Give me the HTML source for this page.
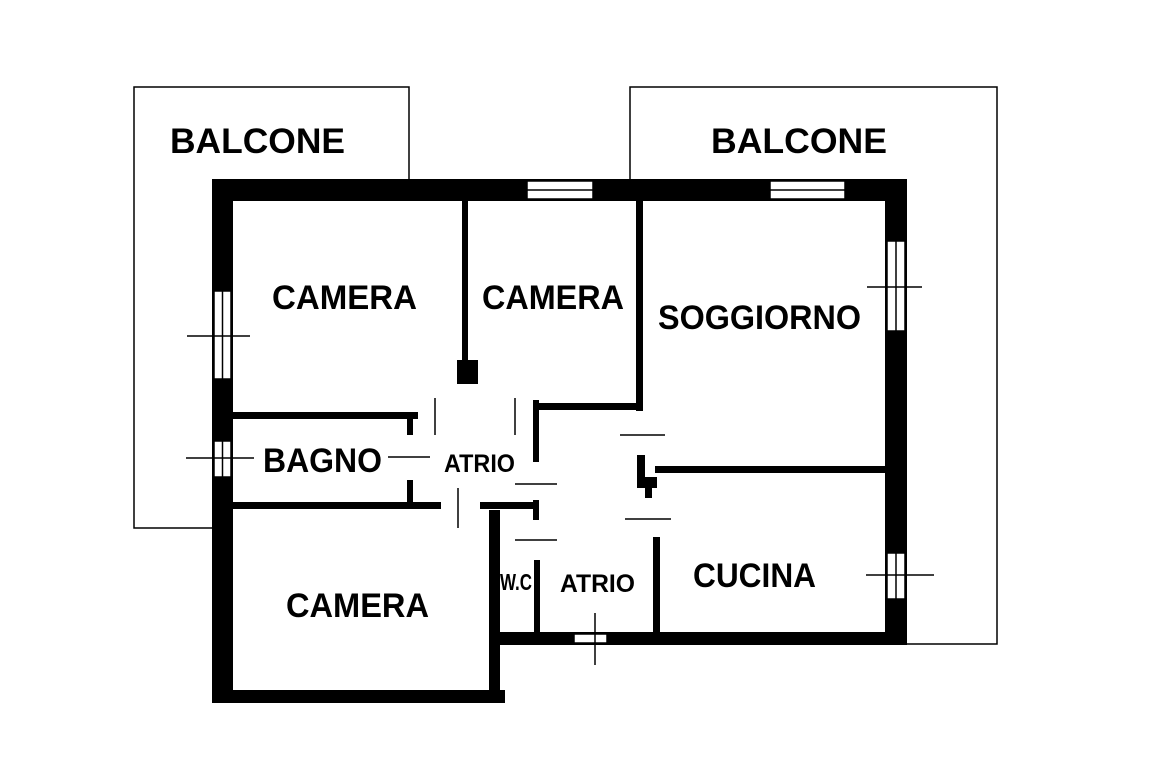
<!DOCTYPE html>
<html><head><style>
html,body{margin:0;padding:0;background:#fff}
svg{display:block}
text{font-family:"Liberation Sans",Arial,sans-serif;font-weight:bold;fill:#000}
</style></head><body>
<svg width="1152" height="768" viewBox="0 0 1152 768" xmlns="http://www.w3.org/2000/svg">
<rect width="1152" height="768" fill="#fff"/>
<polyline points="212,528 134,528 134,87 409,87 409,179" fill="none" stroke="#000" stroke-width="1.5"/>
<polyline points="630,179 630,87 997,87 997,644 906,644" fill="none" stroke="#000" stroke-width="1.5"/>
<g fill="#000">
<rect x="212" y="179" width="695" height="22"/>
<rect x="212" y="179" width="21" height="524"/>
<rect x="885" y="179" width="22" height="465"/>
<rect x="212" y="690" width="293" height="13"/>
<rect x="489" y="510" width="11" height="193"/>
<rect x="489" y="632" width="418" height="13"/>
<rect x="462" y="201" width="6" height="160"/>
<rect x="457" y="360" width="21" height="24"/>
<rect x="636" y="201" width="7" height="210"/>
<rect x="233" y="412" width="185" height="7"/>
<rect x="407" y="412" width="6" height="23"/>
<rect x="407" y="480" width="6" height="24"/>
<rect x="233" y="502" width="208" height="7"/>
<rect x="480" y="502" width="58" height="7"/>
<rect x="533" y="500" width="6" height="20"/>
<rect x="533" y="400" width="6" height="62"/>
<rect x="539" y="403" width="97" height="7"/>
<rect x="655" y="466" width="230" height="7"/>
<rect x="637" y="455" width="8" height="33"/>
<rect x="637" y="477" width="20" height="11"/>
<rect x="645" y="480" width="7" height="18"/>
<rect x="653" y="537" width="7" height="96"/>
<rect x="534" y="560" width="6" height="73"/>
</g>
<g stroke="#000" stroke-width="1.5">
<line x1="620" y1="435" x2="665" y2="435"/>
<line x1="515" y1="484" x2="557" y2="484"/>
<line x1="625" y1="519" x2="671" y2="519"/>
<line x1="515" y1="540" x2="557" y2="540"/>
<line x1="388" y1="457" x2="430" y2="457"/>
<line x1="458" y1="488" x2="458" y2="528"/>
<line x1="435" y1="398" x2="435" y2="435"/>
<line x1="515" y1="398" x2="515" y2="435"/>
</g>
<g fill="#fff" stroke="#000" stroke-width="1.5">
<rect x="527" y="181" width="66" height="18"/><line x1="527" y1="190" x2="593" y2="190"/>
<rect x="770" y="181" width="75" height="18"/><line x1="770" y1="190" x2="845" y2="190"/>
<rect x="214" y="291" width="17" height="88"/><line x1="222.5" y1="291" x2="222.5" y2="379"/>
<rect x="214" y="441" width="17" height="36"/><line x1="222.5" y1="441" x2="222.5" y2="477"/>
<rect x="887" y="241" width="18" height="90"/><line x1="896" y1="241" x2="896" y2="331"/>
<rect x="887" y="553" width="18" height="46"/><line x1="896" y1="553" x2="896" y2="599"/>
<rect x="574" y="634" width="33" height="9"/>
</g>
<g stroke="#000" stroke-width="1.5">
<line x1="187" y1="336" x2="250" y2="336"/>
<line x1="186" y1="458" x2="254" y2="458"/>
<line x1="867" y1="287" x2="922" y2="287"/>
<line x1="866" y1="575" x2="934" y2="575"/>
<line x1="595" y1="613" x2="595" y2="665"/>
</g>
<g lengthAdjust="spacingAndGlyphs">
<text x="170" y="153" font-size="35" textLength="175" lengthAdjust="spacingAndGlyphs">BALCONE</text>
<text x="711" y="153" font-size="35" textLength="176" lengthAdjust="spacingAndGlyphs">BALCONE</text>
<text x="272" y="309" font-size="34" textLength="145" lengthAdjust="spacingAndGlyphs">CAMERA</text>
<text x="482" y="309" font-size="34" textLength="142" lengthAdjust="spacingAndGlyphs">CAMERA</text>
<text x="658" y="329" font-size="34" textLength="203" lengthAdjust="spacingAndGlyphs">SOGGIORNO</text>
<text x="263" y="472" font-size="34" textLength="119" lengthAdjust="spacingAndGlyphs">BAGNO</text>
<text x="444" y="472" font-size="25" textLength="71" lengthAdjust="spacingAndGlyphs">ATRIO</text>
<text x="286" y="617" font-size="34" textLength="143" lengthAdjust="spacingAndGlyphs">CAMERA</text>
<text x="693" y="587" font-size="34" textLength="123" lengthAdjust="spacingAndGlyphs">CUCINA</text>
<text x="560" y="592" font-size="25" textLength="75" lengthAdjust="spacingAndGlyphs">ATRIO</text>
<text x="500" y="590" font-size="23" textLength="32" lengthAdjust="spacingAndGlyphs">W.C</text>
</g>
</svg>
</body></html>
